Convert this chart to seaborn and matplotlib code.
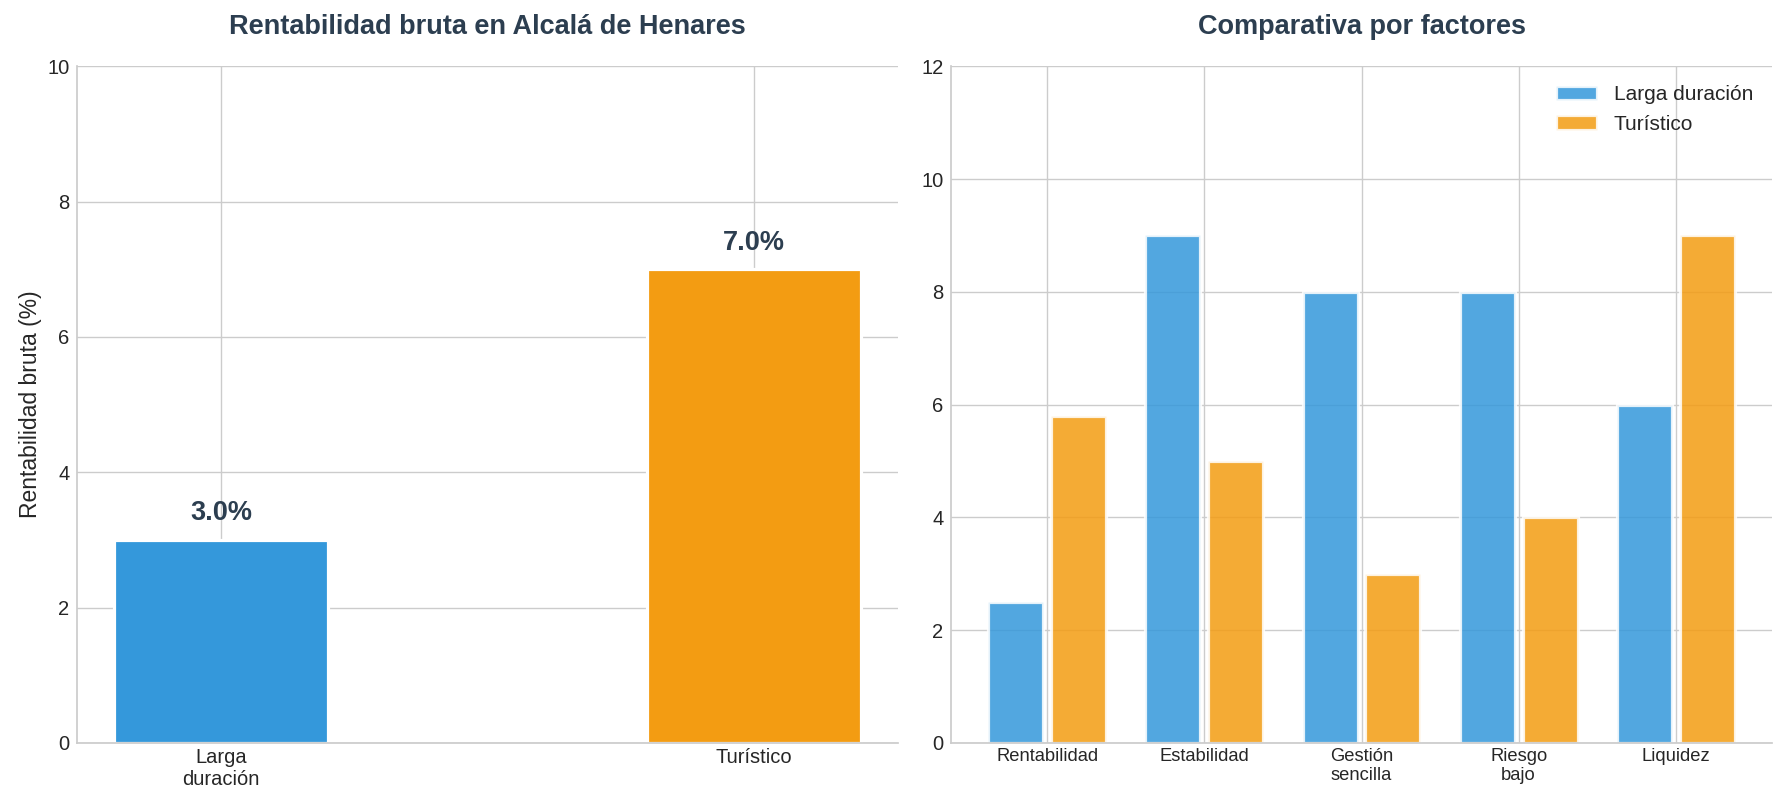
import pandas as pd
import matplotlib.pyplot as plt
import seaborn as sns

sns.set_theme(style="whitegrid")
plt.rcParams['font.family'] = ['Liberation Sans', 'DejaVu Sans']

# Left panel: gross yield by rental type
tipos = ['Larga\nduración', 'Turístico']
rentabilidad = [3.0, 7.0]

# Right panel: scores per factor
factores = ['Rentabilidad', 'Estabilidad', 'Gestión\nsencilla', 'Riesgo\nbajo', 'Liquidez']
larga_duracion = [2.5, 9, 8, 8, 6]
turistico = [5.8, 5, 3, 4, 9]
series = ['Larga duración', 'Turístico']

colores = ['#3498db', '#f39c12']
oscuro = '#2c3e50'

df_left = pd.DataFrame({'tipo': tipos, 'rentabilidad': rentabilidad})
df_right = pd.DataFrame({
    'factor': factores * 2,
    'valor': larga_duracion + turistico,
    'serie': [series[0]] * len(factores) + [series[1]] * len(factores),
})

fig, (ax1, ax2) = plt.subplots(1, 2, figsize=(17.87, 8.06), dpi=100)
fig.subplots_adjust(left=0.0431, right=0.9916, top=0.9177, bottom=0.0782, wspace=0.0646)

# --- left chart
sns.barplot(data=df_left, x='tipo', y='rentabilidad', hue='tipo', palette=colores,
            saturation=1, width=0.4, legend=False, edgecolor='white', linewidth=2.3, ax=ax1)
for i, v in enumerate(rentabilidad):
    ax1.text(i, v + 0.2, f'{v:.1f}%', ha='center', va='bottom',
             fontsize=19.5, fontweight='bold', color=oscuro)
ax1.set_xlim(-0.27, 1.27)
ax1.set_ylim(0, 10)
ax1.set_yticks(range(0, 11, 2))
ax1.set_xlabel('')
ax1.set_ylabel('Rentabilidad bruta (%)', fontsize=16.5)
ax1.set_title('Rentabilidad bruta en Alcalá de Henares', fontsize=19.5,
              fontweight='bold', color=oscuro, pad=23)
ax1.tick_params(axis='x', labelsize=14.5, length=0)
ax1.tick_params(axis='y', labelsize=14.5, length=0, pad=5.5)
ax1.xaxis.grid(True)

# --- right chart
sns.barplot(data=df_right, x='factor', y='valor', hue='serie', palette=colores,
            saturation=1, width=0.8, gap=0.125, alpha=0.85, edgecolor='white',
            linewidth=2.3, ax=ax2)
ax2.set_xlim(-0.6125, 4.6125)
ax2.set_ylim(0, 12)
ax2.set_yticks(range(0, 13, 2))
ax2.set_xlabel('')
ax2.set_ylabel('')
ax2.set_title('Comparativa por factores', fontsize=19.5, fontweight='bold',
              color=oscuro, pad=23)
ax2.tick_params(axis='x', labelsize=13.2, length=0)
ax2.tick_params(axis='y', labelsize=14.5, length=0, pad=5.5)
ax2.xaxis.grid(True)
ax2.legend(loc='upper right', frameon=False, fontsize=15)

sns.despine(fig=fig)
fig.savefig('out.png', dpi=100)
